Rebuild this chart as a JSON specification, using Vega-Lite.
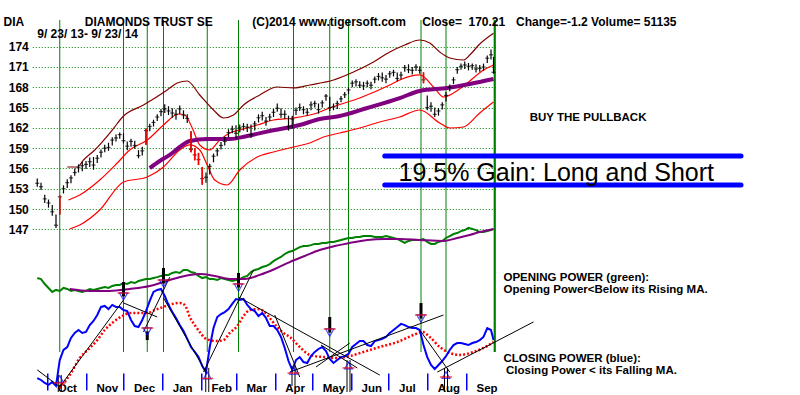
{
"$schema":"https://vega.github.io/schema/vega-lite/v6.json",
"width":465,"height":395,
"autosize":{"type":"none"},
"padding":{"left":32.25,"top":0,"right":302.75,"bottom":0},
"background":"#ffffff",
"config":{"view":{"stroke":null}},
"datasets":{
"px":[
{"d":"2013-09-23","h":154.5,"l":153.3,"c":153.8,"op":59.2,"cp":8.6},
{"d":"2013-09-26","h":153.9,"l":152.8,"c":153.3,"op":58.7,"cp":7.6},
{"d":"2013-09-29","h":152.1,"l":150.9,"c":151.5,"op":56.2,"cp":6.1},
{"d":"2013-10-02","h":151.4,"l":150.2,"c":150.9,"op":54.2,"cp":5.1},
{"d":"2013-10-05","h":150.6,"l":149.0,"c":149.6,"op":52.2,"cp":6.6},
{"d":"2013-10-08","h":149.2,"l":147.2,"c":147.6,"op":53.2,"cp":4.6},
{"d":"2013-10-11","h":152.0,"l":149.2,"c":151.8,"op":52.7,"cp":17.7,"sig":true},
{"d":"2013-10-14","h":153.5,"l":152.3,"c":153.0,"op":54.2,"cp":22.8},
{"d":"2013-10-17","h":154.4,"l":153.1,"c":153.9,"op":53.7,"cp":24.3},
{"d":"2013-10-20","h":155.0,"l":153.8,"c":154.6,"op":52.7,"cp":28.9},
{"d":"2013-10-23","h":156.0,"l":154.9,"c":155.4,"op":53.2,"cp":31.4},
{"d":"2013-10-26","h":156.6,"l":155.4,"c":156.1,"op":52.7,"cp":32.9},
{"d":"2013-10-29","h":157.0,"l":155.6,"c":156.4,"op":52.2,"cp":31.4},
{"d":"2013-11-01","h":157.1,"l":155.9,"c":156.6,"op":52.7,"cp":31.9},
{"d":"2013-11-04","h":157.6,"l":156.2,"c":157.0,"op":53.7,"cp":35.4},
{"d":"2013-11-07","h":157.7,"l":155.8,"c":156.5,"op":53.2,"cp":37.5},
{"d":"2013-11-10","h":158.0,"l":156.8,"c":157.5,"op":53.7,"cp":40.5},
{"d":"2013-11-13","h":158.8,"l":157.6,"c":158.4,"op":54.2,"cp":44.6},
{"d":"2013-11-16","h":159.5,"l":158.4,"c":159.0,"op":54.7,"cp":45.1},
{"d":"2013-11-19","h":159.8,"l":158.6,"c":159.1,"op":54.2,"cp":43.5},
{"d":"2013-11-22","h":160.6,"l":159.4,"c":160.2,"op":55.2,"cp":45.6},
{"d":"2013-11-25","h":161.0,"l":160.0,"c":160.5,"op":55.7,"cp":44.6},
{"d":"2013-11-28","h":161.3,"l":160.4,"c":161.0,"op":55.7,"cp":44.6},
{"d":"2013-12-01","h":161.2,"l":159.7,"c":160.1,"op":56.7,"cp":43.0},
{"d":"2013-12-04","h":160.0,"l":158.7,"c":159.3,"op":56.2,"cp":42.5},
{"d":"2013-12-07","h":160.4,"l":159.2,"c":160.0,"op":57.2,"cp":38.0},
{"d":"2013-12-10","h":160.1,"l":158.9,"c":159.4,"op":56.7,"cp":34.9},
{"d":"2013-12-13","h":158.7,"l":157.5,"c":157.9,"op":57.7,"cp":34.4},
{"d":"2013-12-16","h":159.2,"l":157.9,"c":158.6,"op":58.2,"cp":38.0},
{"d":"2013-12-19","h":161.9,"l":159.5,"c":161.6,"op":58.7,"cp":42.5,"sig":true},
{"d":"2013-12-22","h":162.6,"l":161.5,"c":162.2,"op":58.7,"cp":47.6},
{"d":"2013-12-25","h":163.2,"l":162.2,"c":162.8,"op":59.2,"cp":52.2},
{"d":"2013-12-28","h":164.0,"l":163.0,"c":163.6,"op":59.7,"cp":53.2},
{"d":"2013-12-31","h":164.8,"l":163.7,"c":164.4,"op":60.3,"cp":53.7},
{"d":"2014-01-03","h":165.5,"l":164.2,"c":164.8,"op":60.8,"cp":50.1},
{"d":"2014-01-06","h":165.2,"l":163.9,"c":164.5,"op":60.8,"cp":45.6},
{"d":"2014-01-09","h":164.9,"l":163.5,"c":164.2,"op":61.8,"cp":42.0},
{"d":"2014-01-12","h":164.7,"l":163.2,"c":164.0,"op":62.3,"cp":39.0},
{"d":"2014-01-15","h":165.3,"l":164.0,"c":164.8,"op":61.8,"cp":35.4},
{"d":"2014-01-18","h":164.6,"l":163.3,"c":163.9,"op":63.3,"cp":32.4},
{"d":"2014-01-21","h":164.0,"l":162.7,"c":163.4,"op":63.3,"cp":28.4},
{"d":"2014-01-24","h":161.5,"l":158.4,"c":158.8,"op":62.3,"cp":24.3,"sig":true},
{"d":"2014-01-27","h":159.0,"l":157.2,"c":158.0,"op":61.8,"cp":21.8,"sig":true},
{"d":"2014-01-30","h":158.3,"l":156.5,"c":157.3,"op":60.3,"cp":19.2,"sig":true},
{"d":"2014-02-02","h":156.2,"l":153.6,"c":154.5,"op":59.2,"cp":14.7,"sig":true},
{"d":"2014-02-05","h":155.4,"l":153.9,"c":154.7,"op":59.7,"cp":11.6},
{"d":"2014-02-08","h":156.7,"l":155.1,"c":156.3,"op":58.7,"cp":24.3},
{"d":"2014-02-11","h":158.2,"l":156.9,"c":157.8,"op":58.7,"cp":33.9},
{"d":"2014-02-14","h":159.0,"l":157.8,"c":158.6,"op":58.2,"cp":39.5},
{"d":"2014-02-17","h":159.9,"l":158.8,"c":159.4,"op":59.2,"cp":41.0},
{"d":"2014-02-20","h":160.7,"l":159.4,"c":160.0,"op":58.7,"cp":42.0},
{"d":"2014-02-23","h":161.8,"l":160.6,"c":161.3,"op":58.2,"cp":43.5},
{"d":"2014-02-26","h":162.3,"l":161.2,"c":161.8,"op":57.7,"cp":46.1},
{"d":"2014-03-01","h":162.4,"l":160.4,"c":161.2,"op":58.2,"cp":48.6},
{"d":"2014-03-04","h":162.5,"l":161.3,"c":162.0,"op":58.7,"cp":48.1},
{"d":"2014-03-07","h":162.7,"l":161.6,"c":162.2,"op":59.7,"cp":48.6},
{"d":"2014-03-10","h":162.6,"l":161.4,"c":162.1,"op":60.3,"cp":45.6},
{"d":"2014-03-13","h":162.5,"l":160.5,"c":161.0,"op":62.3,"cp":43.5},
{"d":"2014-03-16","h":163.0,"l":161.6,"c":162.6,"op":63.3,"cp":42.5},
{"d":"2014-03-19","h":164.0,"l":162.8,"c":163.5,"op":63.8,"cp":40.0},
{"d":"2014-03-22","h":164.4,"l":163.1,"c":163.8,"op":64.8,"cp":41.5},
{"d":"2014-03-25","h":163.6,"l":162.3,"c":163.0,"op":65.3,"cp":39.0},
{"d":"2014-03-28","h":164.1,"l":163.0,"c":163.6,"op":66.3,"cp":34.9},
{"d":"2014-03-31","h":164.8,"l":163.6,"c":164.3,"op":67.8,"cp":34.9},
{"d":"2014-04-03","h":165.6,"l":164.4,"c":164.9,"op":68.9,"cp":32.9},
{"d":"2014-04-06","h":164.9,"l":163.5,"c":164.0,"op":69.9,"cp":29.4},
{"d":"2014-04-09","h":164.6,"l":163.3,"c":164.0,"op":71.4,"cp":23.8},
{"d":"2014-04-12","h":163.8,"l":161.6,"c":162.2,"op":72.4,"cp":17.2},
{"d":"2014-04-15","h":163.8,"l":161.9,"c":163.3,"op":72.9,"cp":12.7},
{"d":"2014-04-18","h":165.0,"l":163.9,"c":164.6,"op":73.9,"cp":17.7},
{"d":"2014-04-21","h":165.6,"l":164.5,"c":165.0,"op":74.9,"cp":19.2},
{"d":"2014-04-24","h":165.2,"l":164.0,"c":164.7,"op":75.4,"cp":16.7},
{"d":"2014-04-27","h":164.9,"l":163.8,"c":164.3,"op":75.4,"cp":16.2},
{"d":"2014-04-30","h":165.9,"l":164.6,"c":165.4,"op":75.9,"cp":19.7},
{"d":"2014-05-03","h":166.0,"l":165.0,"c":165.6,"op":76.5,"cp":21.8},
{"d":"2014-05-06","h":165.6,"l":164.1,"c":164.7,"op":76.5,"cp":23.3},
{"d":"2014-05-09","h":166.1,"l":165.0,"c":165.7,"op":77.0,"cp":24.3},
{"d":"2014-05-12","h":167.0,"l":166.0,"c":166.7,"op":77.0,"cp":22.3},
{"d":"2014-05-15","h":166.6,"l":164.5,"c":165.0,"op":77.5,"cp":18.2},
{"d":"2014-05-18","h":165.6,"l":164.6,"c":165.1,"op":77.5,"cp":16.2},
{"d":"2014-05-21","h":166.0,"l":164.8,"c":165.6,"op":78.0,"cp":17.7},
{"d":"2014-05-24","h":166.7,"l":165.8,"c":166.3,"op":78.5,"cp":19.2},
{"d":"2014-05-27","h":167.3,"l":166.4,"c":166.9,"op":79.0,"cp":19.7},
{"d":"2014-05-30","h":168.0,"l":167.0,"c":167.6,"op":79.5,"cp":20.8},
{"d":"2014-06-02","h":169.0,"l":168.0,"c":168.6,"op":79.5,"cp":24.3},
{"d":"2014-06-05","h":169.2,"l":168.1,"c":168.8,"op":80.0,"cp":25.8},
{"d":"2014-06-08","h":168.9,"l":167.9,"c":168.3,"op":80.0,"cp":27.3},
{"d":"2014-06-11","h":168.8,"l":167.6,"c":168.2,"op":80.5,"cp":27.3},
{"d":"2014-06-14","h":169.0,"l":168.0,"c":168.6,"op":80.5,"cp":25.3},
{"d":"2014-06-17","h":168.8,"l":167.7,"c":168.3,"op":80.5,"cp":24.8},
{"d":"2014-06-20","h":169.6,"l":168.6,"c":169.2,"op":80.0,"cp":27.3},
{"d":"2014-06-23","h":170.1,"l":169.0,"c":169.6,"op":80.0,"cp":27.8},
{"d":"2014-06-26","h":170.2,"l":168.8,"c":169.4,"op":80.0,"cp":28.4},
{"d":"2014-06-29","h":169.8,"l":168.6,"c":169.2,"op":80.5,"cp":29.4},
{"d":"2014-07-02","h":170.4,"l":169.4,"c":170.0,"op":80.0,"cp":31.4},
{"d":"2014-07-05","h":170.6,"l":169.6,"c":170.2,"op":79.5,"cp":32.9},
{"d":"2014-07-08","h":170.2,"l":168.9,"c":169.3,"op":79.0,"cp":34.4},
{"d":"2014-07-11","h":170.3,"l":169.2,"c":169.8,"op":78.0,"cp":36.0},
{"d":"2014-07-14","h":171.3,"l":170.3,"c":170.9,"op":77.0,"cp":35.4},
{"d":"2014-07-17","h":171.4,"l":170.1,"c":170.6,"op":78.0,"cp":34.4},
{"d":"2014-07-20","h":171.0,"l":169.9,"c":170.5,"op":78.5,"cp":33.9},
{"d":"2014-07-23","h":171.4,"l":170.4,"c":171.0,"op":78.5,"cp":33.9},
{"d":"2014-07-26","h":171.1,"l":170.0,"c":170.5,"op":78.5,"cp":32.9},
{"d":"2014-07-29","h":170.2,"l":168.6,"c":169.1,"op":79.0,"cp":25.3,"sig":true},
{"d":"2014-08-01","h":166.8,"l":164.6,"c":165.0,"op":77.5,"cp":19.2},
{"d":"2014-08-04","h":165.8,"l":164.4,"c":165.2,"op":76.5,"cp":15.2},
{"d":"2014-08-07","h":165.0,"l":163.6,"c":164.0,"op":76.5,"cp":13.2},
{"d":"2014-08-10","h":164.9,"l":163.8,"c":164.5,"op":77.5,"cp":15.2},
{"d":"2014-08-13","h":165.8,"l":164.7,"c":165.4,"op":78.0,"cp":17.2},
{"d":"2014-08-16","h":167.3,"l":165.9,"c":166.8,"op":79.5,"cp":19.7},
{"d":"2014-08-19","h":168.4,"l":167.4,"c":168.0,"op":80.5,"cp":22.8},
{"d":"2014-08-22","h":169.5,"l":168.5,"c":169.1,"op":81.5,"cp":25.3},
{"d":"2014-08-25","h":171.0,"l":170.0,"c":170.6,"op":82.0,"cp":26.3},
{"d":"2014-08-28","h":171.5,"l":170.6,"c":171.1,"op":83.0,"cp":26.3},
{"d":"2014-08-31","h":171.8,"l":170.7,"c":171.3,"op":83.5,"cp":25.8},
{"d":"2014-09-03","h":171.6,"l":170.5,"c":171.1,"op":84.6,"cp":25.3},
{"d":"2014-09-06","h":171.5,"l":170.6,"c":171.2,"op":84.1,"cp":26.3},
{"d":"2014-09-09","h":171.4,"l":170.2,"c":170.7,"op":83.5,"cp":26.8},
{"d":"2014-09-12","h":171.3,"l":170.3,"c":170.8,"op":82.5,"cp":27.8},
{"d":"2014-09-15","h":171.5,"l":170.4,"c":171.0,"op":82.5,"cp":29.4},
{"d":"2014-09-18","h":172.7,"l":171.6,"c":172.3,"op":83.0,"cp":33.9},
{"d":"2014-09-21","h":173.6,"l":172.1,"c":172.8,"op":83.5,"cp":32.9},
{"d":"2014-09-23","h":172.5,"l":170.0,"c":170.21,"op":84.1,"cp":27.8}
],
"bands":[
{"d":"2013-10-17","s":"ub","v":156.21},{"d":"2013-10-25","s":"ub","v":156.21},{"d":"2013-10-30","s":"ub","v":157.25},{"d":"2013-11-08","s":"ub","v":158.73},{"d":"2013-11-22","s":"ub","v":161.68},{"d":"2013-12-01","s":"ub","v":163.75},{"d":"2013-12-17","s":"ub","v":165.38},{"d":"2014-01-05","s":"ub","v":167.6},{"d":"2014-01-13","s":"ub","v":168.63},{"d":"2014-01-21","s":"ub","v":168.93},{"d":"2014-01-31","s":"ub","v":166.86},{"d":"2014-02-11","s":"ub","v":164.64},{"d":"2014-02-19","s":"ub","v":163.46},{"d":"2014-02-27","s":"ub","v":163.9},{"d":"2014-03-07","s":"ub","v":165.38},{"d":"2014-03-20","s":"ub","v":166.86},{"d":"2014-04-03","s":"ub","v":168.04},{"d":"2014-04-16","s":"ub","v":167.9},{"d":"2014-04-29","s":"ub","v":168.34},{"d":"2014-05-18","s":"ub","v":169.08},{"d":"2014-06-03","s":"ub","v":170.26},{"d":"2014-06-19","s":"ub","v":171.74},{"d":"2014-07-02","s":"ub","v":173.22},{"d":"2014-07-14","s":"ub","v":174.25},{"d":"2014-07-26","s":"ub","v":174.99},{"d":"2014-08-03","s":"ub","v":174.55},{"d":"2014-08-11","s":"ub","v":173.22},{"d":"2014-08-19","s":"ub","v":172.33},{"d":"2014-08-30","s":"ub","v":172.03},{"d":"2014-09-04","s":"ub","v":172.77},{"d":"2014-09-12","s":"ub","v":174.4},{"d":"2014-09-23","s":"ub","v":176.0},
{"d":"2013-10-18","s":"u","v":151.33},{"d":"2013-10-27","s":"u","v":152.07},{"d":"2013-11-12","s":"u","v":154.29},{"d":"2013-11-26","s":"u","v":156.8},{"d":"2013-12-06","s":"u","v":158.72},{"d":"2013-12-20","s":"u","v":160.2},{"d":"2014-01-02","s":"u","v":162.42},{"d":"2014-01-14","s":"u","v":164.05},{"d":"2014-01-19","s":"u","v":163.9},{"d":"2014-01-25","s":"u","v":161.98},{"d":"2014-01-31","s":"u","v":159.47},{"d":"2014-02-08","s":"u","v":158.73},{"d":"2014-02-16","s":"u","v":160.2},{"d":"2014-02-24","s":"u","v":161.24},{"d":"2014-03-04","s":"u","v":161.68},{"d":"2014-03-18","s":"u","v":162.42},{"d":"2014-03-31","s":"u","v":163.16},{"d":"2014-04-16","s":"u","v":163.46},{"d":"2014-05-05","s":"u","v":164.2},{"d":"2014-05-15","s":"u","v":164.94},{"d":"2014-06-08","s":"u","v":166.42},{"d":"2014-07-02","s":"u","v":168.34},{"d":"2014-07-10","s":"u","v":169.08},{"d":"2014-07-26","s":"u","v":169.82},{"d":"2014-08-06","s":"u","v":168.04},{"d":"2014-08-14","s":"u","v":166.56},{"d":"2014-08-22","s":"u","v":167.16},{"d":"2014-09-02","s":"u","v":168.63},{"d":"2014-09-15","s":"u","v":170.55},{"d":"2014-09-23","s":"u","v":171.29},
{"d":"2013-10-19","s":"lb","v":147.04},{"d":"2013-10-27","s":"lb","v":147.63},{"d":"2013-11-12","s":"lb","v":149.85},{"d":"2013-12-01","s":"lb","v":154.0},{"d":"2013-12-20","s":"lb","v":154.73},{"d":"2014-01-02","s":"lb","v":156.21},{"d":"2014-01-15","s":"lb","v":158.73},{"d":"2014-01-23","s":"lb","v":159.47},{"d":"2014-01-31","s":"lb","v":158.73},{"d":"2014-02-06","s":"lb","v":156.51},{"d":"2014-02-12","s":"lb","v":154.29},{"d":"2014-02-22","s":"lb","v":153.55},{"d":"2014-03-04","s":"lb","v":155.77},{"d":"2014-03-18","s":"lb","v":157.69},{"d":"2014-03-31","s":"lb","v":158.43},{"d":"2014-04-16","s":"lb","v":159.17},{"d":"2014-04-29","s":"lb","v":159.76},{"d":"2014-05-10","s":"lb","v":160.65},{"d":"2014-05-23","s":"lb","v":161.24},{"d":"2014-06-08","s":"lb","v":161.98},{"d":"2014-06-24","s":"lb","v":162.87},{"d":"2014-07-10","s":"lb","v":163.61},{"d":"2014-07-26","s":"lb","v":164.64},{"d":"2014-08-11","s":"lb","v":162.72},{"d":"2014-08-19","s":"lb","v":161.98},{"d":"2014-08-30","s":"lb","v":162.13},{"d":"2014-09-12","s":"lb","v":164.2},{"d":"2014-09-23","s":"lb","v":165.82}
],
"ma":[
{"d":"2013-12-22","v":156.06},{"d":"2013-12-30","v":157.1},{"d":"2014-01-07","v":157.99},{"d":"2014-01-15","v":159.17},{"d":"2014-01-23","v":160.06},{"d":"2014-02-06","v":160.35},{"d":"2014-02-24","v":160.35},{"d":"2014-03-10","v":160.8},{"d":"2014-03-28","v":161.54},{"d":"2014-04-21","v":162.42},{"d":"2014-05-07","v":163.31},{"d":"2014-05-23","v":163.75},{"d":"2014-06-14","v":164.94},{"d":"2014-07-10","v":166.41},{"d":"2014-07-26","v":167.45},{"d":"2014-08-17","v":167.89},{"d":"2014-09-04","v":168.48},{"d":"2014-09-23","v":169.22}
],
"opma":[
{"d":"2013-10-19","v":53.7},{"d":"2013-11-04","v":52.7},{"d":"2013-11-20","v":52.7},{"d":"2013-12-06","v":53.7},{"d":"2013-12-22","v":55.2},{"d":"2014-01-07","v":58.2},{"d":"2014-01-23","v":60.8},{"d":"2014-01-31","v":61.3},{"d":"2014-02-12","v":60.3},{"d":"2014-02-24","v":58.7},{"d":"2014-03-08","v":58.7},{"d":"2014-03-20","v":60.8},{"d":"2014-04-01","v":63.8},{"d":"2014-04-13","v":67.3},{"d":"2014-04-25","v":70.4},{"d":"2014-05-07","v":73.4},{"d":"2014-05-19","v":75.4},{"d":"2014-05-31","v":77.0},{"d":"2014-06-14","v":78.5},{"d":"2014-06-28","v":79.0},{"d":"2014-07-10","v":79.0},{"d":"2014-07-26","v":78.5},{"d":"2014-08-14","v":78.0},{"d":"2014-08-25","v":79.5},{"d":"2014-09-04","v":81.0},{"d":"2014-09-12","v":82.5},{"d":"2014-09-23","v":84.1}
],
"cpma":[
{"d":"2013-10-11","v":3.5},{"d":"2013-10-19","v":10.1},{"d":"2013-10-27","v":18.7},{"d":"2013-11-04","v":23.8},{"d":"2013-11-10","v":27.8},{"d":"2013-11-16","v":32.9},{"d":"2013-11-23","v":37.0},{"d":"2013-11-30","v":40.0},{"d":"2013-12-06","v":41.5},{"d":"2013-12-14","v":41.5},{"d":"2013-12-20","v":41.5},{"d":"2013-12-26","v":43.0},{"d":"2014-01-02","v":44.6},{"d":"2014-01-09","v":46.1},{"d":"2014-01-15","v":46.6},{"d":"2014-01-19","v":45.6},{"d":"2014-01-23","v":39.5},{"d":"2014-01-27","v":35.4},{"d":"2014-01-31","v":31.9},{"d":"2014-02-04","v":28.9},{"d":"2014-02-08","v":27.8},{"d":"2014-02-14","v":27.3},{"d":"2014-02-19","v":27.8},{"d":"2014-02-24","v":31.4},{"d":"2014-03-02","v":34.9},{"d":"2014-03-07","v":40.0},{"d":"2014-03-12","v":43.0},{"d":"2014-03-18","v":43.5},{"d":"2014-03-23","v":42.5},{"d":"2014-03-28","v":39.0},{"d":"2014-04-03","v":34.4},{"d":"2014-04-08","v":31.4},{"d":"2014-04-13","v":29.4},{"d":"2014-04-21","v":24.3},{"d":"2014-04-29","v":20.3},{"d":"2014-05-10","v":19.2},{"d":"2014-05-21","v":18.7},{"d":"2014-05-31","v":19.7},{"d":"2014-06-11","v":21.8},{"d":"2014-06-24","v":24.3},{"d":"2014-07-08","v":26.8},{"d":"2014-07-21","v":30.4},{"d":"2014-07-28","v":31.9},{"d":"2014-08-03","v":29.4},{"d":"2014-08-11","v":24.3},{"d":"2014-08-19","v":21.3},{"d":"2014-08-27","v":20.3},{"d":"2014-09-07","v":21.8},{"d":"2014-09-15","v":23.8},{"d":"2014-09-23","v":26.8}
],
"vlines":[{"d":"2013-10-11"},{"d":"2013-12-01"},{"d":"2013-12-20"},{"d":"2014-01-02"},{"d":"2014-02-06"},{"d":"2014-03-03"},{"d":"2014-04-16"},{"d":"2014-05-15"},{"d":"2014-05-30"},{"d":"2014-07-27"},{"d":"2014-08-16"}],
"vnow":[{"d":"2014-09-24"}],
"tl":[
{"d":"2013-09-23","d2":"2013-10-11","v":12.7,"v2":4.1},
{"d":"2013-10-11","d2":"2013-12-01","v":4.1,"v2":48.1},
{"d":"2013-12-01","d2":"2013-12-28","v":46.6,"v2":39.5},
{"d":"2013-12-17","d2":"2014-01-07","v":31.9,"v2":59.7},
{"d":"2014-01-02","d2":"2014-02-05","v":49.1,"v2":11.6},
{"d":"2014-02-03","d2":"2014-03-15","v":11.6,"v2":63.3},
{"d":"2014-03-03","d2":"2014-06-24","v":49.6,"v2":10.1},
{"d":"2014-04-01","d2":"2014-04-21","v":40.5,"v2":9.1},
{"d":"2014-04-13","d2":"2014-08-14","v":11.6,"v2":40.5},
{"d":"2014-05-04","d2":"2014-05-31","v":14.2,"v2":26.3},
{"d":"2014-05-08","d2":"2014-06-06","v":25.3,"v2":13.7},
{"d":"2014-07-26","d2":"2014-08-19","v":32.9,"v2":11.6},
{"d":"2014-08-09","d2":"2014-10-25","v":11.6,"v2":37.0}
],
"sells":[
{"d":"2013-12-01","top":57.2,"bot":49.9,"tk":51.6,"tri":49.9},
{"d":"2013-12-20","top":27.8,"bot":32.2,"tk":33.9,"tri":32.2},
{"d":"2014-01-02","top":64.3,"bot":56.5,"tk":58.2,"tri":56.5},
{"d":"2014-03-03","top":61.8,"bot":54.4,"tk":56.2,"tri":54.4},
{"d":"2014-05-15","top":39.5,"bot":31.6,"tk":33.4,"tri":31.6},
{"d":"2014-07-27","top":46.6,"bot":38.7,"tk":40.5,"tri":38.7}
],
"buys":[
{"d":"2013-10-11","top":10.1,"bot":1.5,"tk":6.1,"tri":8.1},
{"d":"2014-02-06","top":13.7,"bot":1.5,"tk":8.4,"tri":9.9},
{"d":"2014-04-16","top":14.7,"bot":4.6,"tk":11.1,"tri":12.2},
{"d":"2014-05-30","top":17.7,"bot":1.5,"tk":13.7,"tri":14.9},
{"d":"2014-08-16","top":13.7,"bot":1.5,"tk":9.1,"tri":10.1}
],
"gain":[{"d":"2014-06-28","d2":"2015-04-09","v":157.84},{"d":"2014-06-28","d2":"2015-04-09","v":153.55}],
"hdr":[
{"d":"2013-08-27","v":177.1,"t":"DIA"},
{"d":"2013-10-31","v":177.1,"t":"DIAMONDS TRUST SE"},
{"d":"2014-03-14","v":177.1,"t":"(C)2014 www.tigersoft.com"},
{"d":"2014-07-28","v":177.1,"t":"Close="},
{"d":"2014-09-03","v":177.1,"t":"170.21"},
{"d":"2014-10-11","v":177.1,"t":"Change=-1.2 Volume= 51135"},
{"d":"2013-09-23","v":175.29,"t":"9/ 23/ 13- 9/ 23/ 14"}
],
"side":[
{"d":"2014-10-22","v":163.01,"t":"BUY THE PULLBACK"},
{"d":"2014-10-01","v":139.36,"t":"OPENING POWER (green):"},
{"d":"2014-10-01","v":137.58,"t":"Opening Power<Below its Rising MA."},
{"d":"2014-10-01","v":127.38,"t":"CLOSING POWER (blue):"},
{"d":"2014-10-03","v":125.6,"t":"Closing Power < its Falling MA."}
],
"big":[{"d":"2014-07-09","v":154.14,"t":"19.5% Gain: Long and Short"}]
},
"encoding":{"x":{"field":"d","type":"temporal","title":null,
 "scale":{"type":"utc","domain":[{"year":2013,"month":9,"date":19,"utc":true},{"year":2014,"month":9,"date":26,"utc":true}]},
 "axis":{"orient":"bottom","values":[{"year":2013,"month":10,"date":1,"utc":true},{"year":2013,"month":11,"date":1,"utc":true},{"year":2013,"month":12,"date":1,"utc":true},{"year":2014,"month":1,"date":1,"utc":true},{"year":2014,"month":2,"date":1,"utc":true},{"year":2014,"month":3,"date":1,"utc":true},{"year":2014,"month":4,"date":1,"utc":true},{"year":2014,"month":5,"date":1,"utc":true},{"year":2014,"month":6,"date":1,"utc":true},{"year":2014,"month":7,"date":1,"utc":true},{"year":2014,"month":8,"date":1,"utc":true},{"year":2014,"month":9,"date":1,"utc":true}],
 "labelExpr":"utcFormat(datum.value,'%b')","domain":false,"grid":false,"tickColor":"#0000ff","tickSize":17,"tickWidth":1.5,"labelAlign":"left","labelOffset":10,"labelPadding":-8,"labelBaseline":"top","labelFont":"Liberation Sans","labelFontWeight":"bold","labelFontSize":11.5,"labelColor":"#000000","offset":-22,"labelFlush":false,"labelOverlap":false}}},
"layer":[
{"data":{"name":"vlines"},"mark":{"type":"rule","color":"#008000","strokeWidth":1},
 "encoding":{"y":{"datum":177.95,"type":"quantitative","scale":{"domain":[122.5,180.905],"nice":false,"zero":false},"axis":null},"y2":{"datum":128.86}}},
{"data":{"name":"vnow"},"mark":{"type":"rule","color":"#008000","strokeWidth":2.2},
 "encoding":{"y":{"datum":177.95,"type":"quantitative","scale":{"domain":[122.5,180.905],"nice":false,"zero":false},"axis":null},"y2":{"datum":128.86}}},
{"data":{"name":"bands"},"mark":{"type":"line","strokeWidth":1.2,"interpolate":"monotone"},
 "encoding":{"y":{"field":"v","type":"quantitative","scale":{"domain":[122.5,180.905],"nice":false,"zero":false},"axis":null},
  "color":{"field":"s","type":"nominal","scale":{"domain":["ub","u","lb"],"range":["#800000","#ff0000","#ff0000"]},"legend":null}}},
{"data":{"name":"ma"},"mark":{"type":"line","strokeWidth":4,"color":"#800080","interpolate":"monotone"},
 "encoding":{"y":{"field":"v","type":"quantitative","scale":{"domain":[122.5,180.905],"nice":false,"zero":false},"axis":null}}},
{"data":{"name":"px"},"mark":{"type":"rule","color":"#000000","strokeWidth":1.2},
 "encoding":{"y":{"field":"l","type":"quantitative","title":null,"scale":{"domain":[122.5,180.905],"nice":false,"zero":false},
   "axis":{"orient":"left","values":[147,150,153,156,159,162,165,168,171,174],"grid":true,"gridColor":"#008000","gridDash":[1,2],"gridWidth":1,"ticks":false,"domain":false,"labelFont":"Liberation Sans","labelFontWeight":"bold","labelFontSize":12,"labelColor":"#000000","labelPadding":4,"title":null}},
  "y2":{"field":"h"}}},
{"data":{"name":"px"},"mark":{"type":"tick","orient":"horizontal","color":"#000000","size":4,"thickness":1.2},
 "encoding":{"y":{"field":"c","type":"quantitative","scale":{"domain":[122.5,180.905],"nice":false,"zero":false},"axis":null}}},
{"data":{"name":"px"},"transform":[{"filter":"datum.sig"}],"mark":{"type":"rule","color":"#ff0000","strokeWidth":1.6},
 "encoding":{"y":{"field":"l","type":"quantitative","scale":{"domain":[122.5,180.905],"nice":false,"zero":false},"axis":null},"y2":{"field":"h"}}},
{"data":{"name":"gain"},"mark":{"type":"rule","color":"#0000ff","strokeWidth":5,"strokeCap":"round"},
 "encoding":{"x2":{"field":"d2"},"y":{"field":"v","type":"quantitative","scale":{"domain":[122.5,180.905],"nice":false,"zero":false},"axis":null}}},
{"data":{"name":"hdr"},"mark":{"type":"text","align":"left","baseline":"alphabetic","font":"Liberation Sans","fontWeight":"bold","fontSize":12,"color":"#000000"},
 "encoding":{"y":{"field":"v","type":"quantitative","scale":{"domain":[122.5,180.905],"nice":false,"zero":false},"axis":null},"text":{"field":"t"}}},
{"data":{"name":"side"},"mark":{"type":"text","align":"left","baseline":"alphabetic","font":"Liberation Sans","fontWeight":"bold","fontSize":11.5,"color":"#000000"},
 "encoding":{"y":{"field":"v","type":"quantitative","scale":{"domain":[122.5,180.905],"nice":false,"zero":false},"axis":null},"text":{"field":"t"}}},
{"data":{"name":"big"},"mark":{"type":"text","align":"left","baseline":"alphabetic","font":"Liberation Sans","fontSize":25,"color":"#000000"},
 "encoding":{"y":{"field":"v","type":"quantitative","scale":{"domain":[122.5,180.905],"nice":false,"zero":false},"axis":null},"text":{"field":"t"}}},
{"data":{"name":"px"},"mark":{"type":"line","color":"#008000","strokeWidth":2},
 "encoding":{"y":{"field":"op","type":"quantitative","scale":{"domain":[0,200],"nice":false,"zero":false},"axis":null}}},
{"data":{"name":"opma"},"mark":{"type":"line","color":"#800080","strokeWidth":2,"interpolate":"monotone"},
 "encoding":{"y":{"field":"v","type":"quantitative","scale":{"domain":[0,200],"nice":false,"zero":false},"axis":null}}},
{"data":{"name":"cpma"},"mark":{"type":"line","color":"#ff0000","strokeWidth":2.5,"strokeDash":[2,2],"interpolate":"monotone"},
 "encoding":{"y":{"field":"v","type":"quantitative","scale":{"domain":[0,200],"nice":false,"zero":false},"axis":null}}},
{"data":{"name":"px"},"mark":{"type":"line","color":"#0000ff","strokeWidth":2},
 "encoding":{"y":{"field":"cp","type":"quantitative","scale":{"domain":[0,200],"nice":false,"zero":false},"axis":null}}},
{"data":{"name":"tl"},"mark":{"type":"rule","color":"#000000","strokeWidth":1},
 "encoding":{"x2":{"field":"d2"},"y":{"field":"v","type":"quantitative","scale":{"domain":[0,200],"nice":false,"zero":false},"axis":null},"y2":{"field":"v2"}}},
{"data":{"name":"sells"},"mark":{"type":"rule","color":"#000000","strokeWidth":3},
 "encoding":{"y":{"field":"top","type":"quantitative","scale":{"domain":[0,200],"nice":false,"zero":false},"axis":null},"y2":{"field":"bot"}}},
{"data":{"name":"sells"},"mark":{"type":"point","shape":"triangle-down","filled":false,"color":"#0000ff","size":70,"strokeWidth":1.2},
 "encoding":{"y":{"field":"tri","type":"quantitative","scale":{"domain":[0,200],"nice":false,"zero":false},"axis":null}}},
{"data":{"name":"sells"},"mark":{"type":"tick","orient":"horizontal","color":"#ff0000","size":12,"thickness":1.5},
 "encoding":{"y":{"field":"tk","type":"quantitative","scale":{"domain":[0,200],"nice":false,"zero":false},"axis":null}}},
{"data":{"name":"buys"},"mark":{"type":"rule","color":"#000000","strokeWidth":1,"xOffset":-1.5},
 "encoding":{"y":{"field":"top","type":"quantitative","scale":{"domain":[0,200],"nice":false,"zero":false},"axis":null},"y2":{"field":"bot"}}},
{"data":{"name":"buys"},"mark":{"type":"rule","color":"#000000","strokeWidth":1,"xOffset":1.5},
 "encoding":{"y":{"field":"top","type":"quantitative","scale":{"domain":[0,200],"nice":false,"zero":false},"axis":null},"y2":{"field":"bot"}}},
{"data":{"name":"buys"},"mark":{"type":"point","shape":"triangle-up","filled":false,"color":"#0000ff","size":60,"strokeWidth":1.2},
 "encoding":{"y":{"field":"tri","type":"quantitative","scale":{"domain":[0,200],"nice":false,"zero":false},"axis":null}}},
{"data":{"name":"buys"},"mark":{"type":"tick","orient":"horizontal","color":"#ff0000","size":12,"thickness":1.5},
 "encoding":{"y":{"field":"tk","type":"quantitative","scale":{"domain":[0,200],"nice":false,"zero":false},"axis":null}}}
],
"resolve":{"scale":{"y":"independent"}}
}
